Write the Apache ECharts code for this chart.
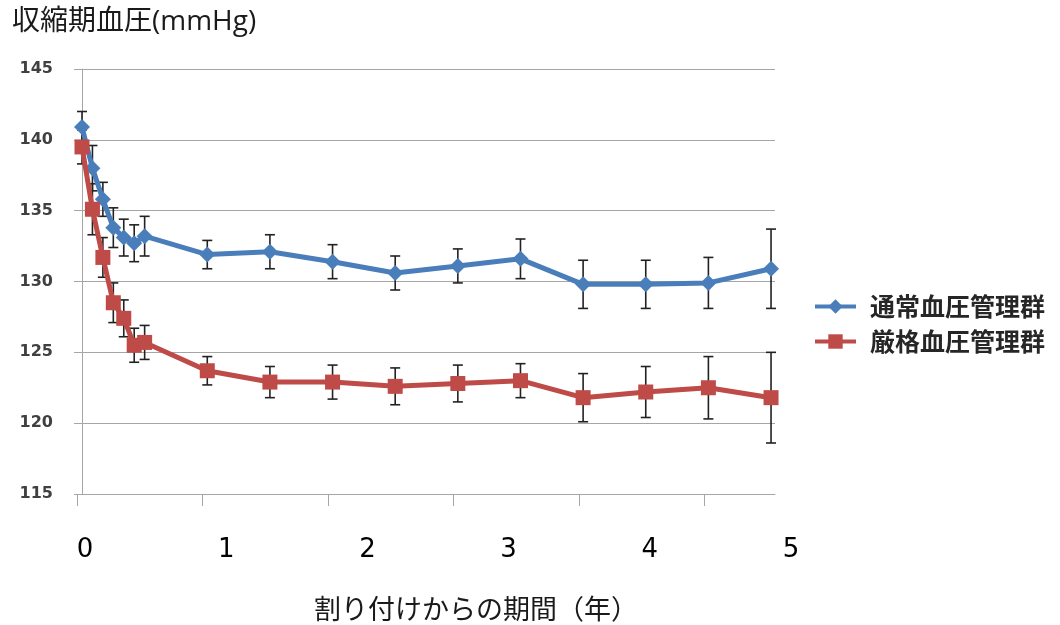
<!DOCTYPE html>
<html>
<head>
<meta charset="utf-8">
<script src="https://cdn.jsdelivr.net/npm/echarts@6/dist/echarts.min.js"></script>
<style>
html,body{margin:0;padding:0;background:#fff;}
#main{width:1060px;height:625px;}
</style>
</head>
<body>
<div id="main"></div>
<script>
// months since randomisation
var months = [0, 1, 2, 3, 4, 5, 6, 12, 18, 24, 30, 36, 42, 48, 54, 60, 66];
var usualBP = [140.9, 138.0, 135.8, 133.8, 133.1, 132.7, 133.2, 131.9, 132.1, 131.4, 130.6, 131.1, 131.6, 129.8, 129.8, 129.9, 130.9];
var usualErr = [1.1, 1.6, 1.2, 1.4, 1.3, 1.3, 1.4, 1.0, 1.2, 1.2, 1.2, 1.2, 1.4, 1.7, 1.7, 1.8, 2.8];
var strictBP = [139.5, 135.1, 131.7, 128.5, 127.4, 125.5, 125.7, 123.7, 122.9, 122.9, 122.6, 122.8, 123.0, 121.8, 122.2, 122.5, 121.8];
var strictErr = [1.2, 1.8, 1.4, 1.4, 1.3, 1.2, 1.2, 1.0, 1.1, 1.2, 1.3, 1.3, 1.2, 1.7, 1.8, 2.2, 3.2];
var seriesNames = ['通常血圧管理群', '厳格血圧管理群'];
var yearTicks = [0, 1, 2, 3, 4, 5];
var yearLabels = ['0', '1', '2', '3', '4', '5'];
var yTicks = [115, 120, 125, 130, 135, 140, 145];

var blue = '#4a7ebb', red = '#be4b48', gridCol = '#a6a6a6';

function pairs(vals) {
  return months.map(function (m, i) { return [m, vals[i]]; });
}
function errs(vals, e) {
  return months.map(function (m, i) { return [m, vals[i] - e[i], vals[i] + e[i]]; });
}
function errRender(params, api) {
  var x = api.value(0), lo = api.value(1), hi = api.value(2);
  var p1 = api.coord([x, hi]), p2 = api.coord([x, lo]);
  var w = 5;
  var st = { stroke: '#222', lineWidth: 1.6 };
  return {
    type: 'group',
    children: [
      { type: 'line', shape: { x1: p1[0], y1: p1[1], x2: p2[0], y2: p2[1] }, style: st },
      { type: 'line', shape: { x1: p1[0] - w, y1: p1[1], x2: p1[0] + w, y2: p1[1] }, style: st },
      { type: 'line', shape: { x1: p2[0] - w, y1: p2[1], x2: p2[0] + w, y2: p2[1] }, style: st }
    ]
  };
}

var chart = echarts.init(document.getElementById('main'));
chart.setOption({
  backgroundColor: '#fff',
  animation: false,
  title: [
    { text: '収縮期血圧(mmHg)', left: 12, top: 8, padding: 0,
      textStyle: { fontSize: 28, fontWeight: 'normal', color: '#1a1a1a', fontFamily: '"Open Sans","Noto Sans CJK JP"' } },
    { text: '割り付けからの期間（年）', left: 314, top: 595, padding: 0,
      textStyle: { fontSize: 27, fontWeight: 'normal', color: '#1a1a1a', fontFamily: '"Noto Sans CJK JP"' } }
  ],
  legend: {
    orient: 'vertical', left: 808, top: 289,
    itemWidth: 41, itemHeight: 18, itemGap: 10,
    data: seriesNames,
    lineStyle: { width: 4 },
    textStyle: { fontSize: 25, fontWeight: 'bold', color: '#262626', fontFamily: '"Noto Sans CJK JP"', padding: [0, 0, 0, 9] }
  },
  grid: [
    { left: 77, right: 285, top: 69, bottom: 131 },
    { left: 85, right: 269, top: 69, bottom: 131 }
  ],
  xAxis: [
    { type: 'value', gridIndex: 0, position: 'bottom', min: -0.479, max: 66.38,
      axisLine: { show: false }, axisTick: { show: false }, axisLabel: { show: false }, splitLine: { show: false } },
    { type: 'value', gridIndex: 0, position: 'bottom', offset: 0, min: 0, max: 5.56, interval: 1,
      axisLine: { show: true, lineStyle: { color: gridCol, width: 1 } },
      axisTick: { show: true, length: 12, customValues: yearTicks, lineStyle: { color: gridCol, width: 1 } },
      axisLabel: { show: false }, splitLine: { show: false } },
    { type: 'value', gridIndex: 1, position: 'bottom', min: 0, max: 5, interval: 1,
      axisLine: { show: false }, axisTick: { show: false }, splitLine: { show: false },
      axisLabel: { show: true, margin: 43, fontSize: 26, color: '#000', fontFamily: '"DejaVu Sans"',
        customValues: yearTicks,
        formatter: function (v) { var i = yearTicks.indexOf(Math.round(v)); return i >= 0 ? yearLabels[i] : ''; } } }
  ],
  yAxis: [
    { type: 'value', gridIndex: 0, min: yTicks[0], max: yTicks[yTicks.length - 1], interval: 5,
      axisLine: { show: true, lineStyle: { color: gridCol, width: 1 } },
      axisTick: { show: true, length: 8, lineStyle: { color: gridCol, width: 1 } },
      axisLabel: { margin: 24, fontSize: 16, fontWeight: 'bold', color: '#404040', fontFamily: '"DejaVu Sans"' },
      splitLine: { show: true, lineStyle: { color: gridCol, width: 1 } } },
    { type: 'value', gridIndex: 1, min: 0, max: 1, show: false }
  ],
  series: [
    { name: seriesNames[0] + '_err', type: 'custom', xAxisIndex: 0, yAxisIndex: 0,
      renderItem: errRender, data: errs(usualBP, usualErr), encode: { x: 0, y: [1, 2] }, z: 1, silent: true },
    { name: seriesNames[1] + '_err', type: 'custom', xAxisIndex: 0, yAxisIndex: 0,
      renderItem: errRender, data: errs(strictBP, strictErr), encode: { x: 0, y: [1, 2] }, z: 1, silent: true },
    { name: seriesNames[0], type: 'line', xAxisIndex: 0, yAxisIndex: 0, data: pairs(usualBP),
      symbol: 'diamond', symbolSize: 16, showAllSymbol: true, z: 3,
      lineStyle: { color: blue, width: 5 }, itemStyle: { color: blue } },
    { name: seriesNames[1], type: 'line', xAxisIndex: 0, yAxisIndex: 0, data: pairs(strictBP),
      symbol: 'rect', symbolSize: 15, showAllSymbol: true, z: 4,
      lineStyle: { color: red, width: 5 }, itemStyle: { color: red } }
  ]
});
</script>
</body>
</html>
